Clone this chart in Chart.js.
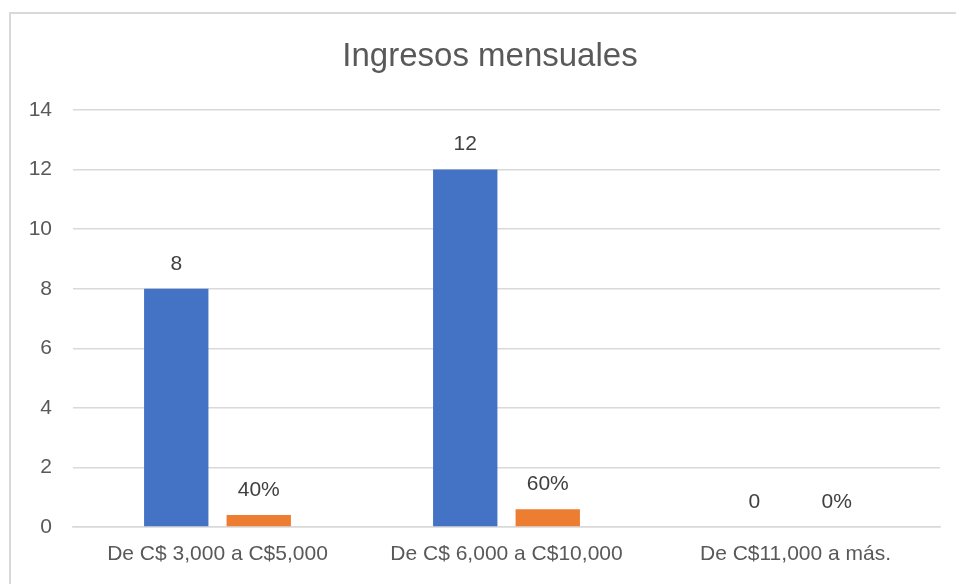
<!DOCTYPE html>
<html lang="es">
<head>
    <meta charset="UTF-8">
    <title>Ingresos mensuales</title>
    <script src="https://cdn.jsdelivr.net/npm/chart.js"></script>
    <style>
        html, body { margin: 0; padding: 0; background: #fff; overflow: hidden; }
        .frame { position: absolute; left: 9px; top: 12px; width: 1000px; height: 1000px; border: 2px solid #d9d9d9; }
        .wrap { position: absolute; left: 0; top: 0; width: 956px; height: 584px; }
    </style>
</head>
<body>
    <div class="frame"></div>
    <div class="wrap"><canvas id="chart"></canvas></div>

    <script>
        const categories = ["De C$ 3,000 a C$5,000", "De C$ 6,000 a C$10,000", "De C$11,000 a más."];
        const counts = [8, 12, 0];
        const shares = [0.4, 0.6, 0];
        const yTicks = [0, 2, 4, 6, 8, 10, 12, 14];
        const chartTitle = "Ingresos mensuales";

        const FONT = "'Liberation Sans', Arial, sans-serif";

        // title (centred on the outer frame, not the canvas) and value labels above each bar
        const extras = {
            id: "extras",
            afterDatasetsDraw(chart) {
                const ctx = chart.ctx;
                ctx.save();
                ctx.textAlign = "center";
                ctx.textBaseline = "middle";

                ctx.font = "33px " + FONT;
                ctx.fillStyle = "#595959";
                ctx.fillText(chartTitle, 490, 57);

                ctx.font = "21px " + FONT;
                ctx.fillStyle = "#404040";
                chart.data.datasets.forEach((ds, i) => {
                    chart.getDatasetMeta(i).data.forEach((bar, j) => {
                        const v = ds.data[j];
                        const txt = i === 1 ? Math.round(v * 100) + "%" : String(v);
                        ctx.fillText(txt, bar.x, bar.y - 25);
                    });
                });
                ctx.restore();
            }
        };

        new Chart(document.getElementById("chart"), {
            type: "bar",
            data: {
                labels: categories,
                datasets: [
                    { label: "Cantidad", data: counts, backgroundColor: "#4472C4",
                      categoryPercentage: 0.571, barPercentage: 0.78 },
                    { label: "Porcentaje", data: shares, backgroundColor: "#ED7D31",
                      categoryPercentage: 0.571, barPercentage: 0.78 }
                ]
            },
            options: {
                responsive: true,
                maintainAspectRatio: false,
                animation: false,
                layout: { padding: { left: 0, right: 16, top: 110, bottom: 0 } },
                plugins: {
                    legend: { display: false },
                    tooltip: { enabled: false },
                    title: { display: false }
                },
                scales: {
                    x: {
                        grid: { display: false, drawTicks: false },
                        border: { display: true, color: "#d9d9d9", width: 1.5 },
                        ticks: { color: "#595959", font: { family: FONT, size: 21 }, padding: 15, maxRotation: 0 },
                        afterFit(scale) { scale.height = 57; }
                    },
                    y: {
                        min: 0,
                        max: 14,
                        afterBuildTicks(scale) { scale.ticks = yTicks.map(v => ({ value: v })); },
                        grid: { color: "#d9d9d9", lineWidth: 1.5, drawTicks: false },
                        border: { display: false },
                        ticks: { color: "#595959", font: { family: FONT, size: 21 }, padding: 21 },
                        afterFit(scale) { scale.width = 73; }
                    }
                }
            },
            plugins: [extras]
        });
    </script>
</body>
</html>
